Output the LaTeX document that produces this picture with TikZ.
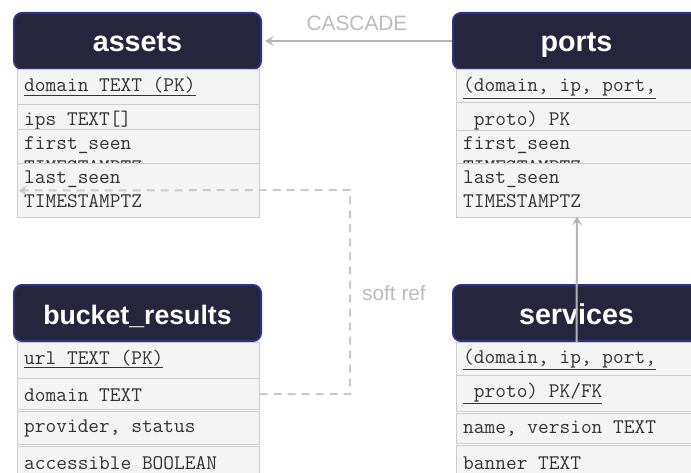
\documentclass[tikz,border=0pt]{standalone}
\usepackage{fontspec}
\newfontfamily\headfont{Liberation Sans}
\usetikzlibrary{arrows.meta}

\definecolor{headfill}{HTML}{25263C}
\definecolor{headline}{HTML}{2E3190}
\definecolor{rowfill}{HTML}{F4F4F4}
\definecolor{rowline}{HTML}{CCCCCC}
\definecolor{fieldtext}{HTML}{333333}
\definecolor{linkgray}{HTML}{B4B4B4}
\definecolor{softgray}{HTML}{CACACA}

\begin{document}
\begin{tikzpicture}[x=1pt, y=-1pt,
	tablehead/.style={draw=headline, line width=2pt, fill=headfill, rounded corners=8pt,
		minimum width=247pt, minimum height=56pt, inner sep=0pt, text height=28pt, text depth=6pt,
		text=white, font=\headfont\bfseries\fontsize{28.7}{30}\selectfont},
	rowbox/.style={draw=rowline, fill=rowfill, line width=1pt, anchor=north west,
		minimum width=242pt, inner sep=0pt},
	field/.style={anchor=base west, inner sep=0pt, text=fieldtext,
		font=\ttfamily\fontsize{20.8}{24}\selectfont},
	linklabel/.style={text=linkgray!90, inner sep=0pt, font=\headfont\fontsize{20.8}{24}\selectfont},
	cascade/.style={draw=linkgray, line width=2pt, -{Stealth[length=9pt, width=10pt, inset=4pt]}},
	softref/.style={draw=softgray, line width=2pt, dash pattern=on 8pt off 6pt,
		-{Stealth[length=9pt, width=10pt, inset=4pt]}}]

	\useasboundingbox (0,0) rectangle (691,473);
	\clip (0,0) rectangle (691,473);

	% Table headers
	\node[tablehead] (ahead) at (137.5, 41) {assets};
	\node[tablehead] (phead) at (576.5, 41) {ports};
	\node[tablehead, font=\headfont\bfseries\fontsize{26.7}{30}\selectfont] (bhead) at (137.5, 313) {bucket\_results};
	\node[tablehead] (shead) at (576.5, 313) {services};

	% assets (each row covers the tail of the one above)
	\node[rowbox, minimum height=35pt] (a1) at (16.5, 69) {};
	\node[field] (apk) at (24, 92) {\underline{domain TEXT (PK)}};
	\node[rowbox, minimum height=35pt] (a2) at (16.5, 104) {};
	\node[field] (aips) at (24, 126) {ips TEXT[]};
	\node[rowbox, minimum height=58pt] (a3) at (16.5, 129) {};
	\node[field] (afirst) at (24, 150) {first\_seen};
	\node[field] (afirstts) at (24, 174) {TIMESTAMPTZ};
	\node[rowbox, minimum height=54pt] (a4) at (16.5, 163) {};
	\node[field] (alast) at (24, 184) {last\_seen};
	\node[field] (alastts) at (24, 208) {TIMESTAMPTZ};

	% ports
	\node[rowbox, minimum height=33pt] (p1) at (455.5, 69) {};
	\node[field] (ppk) at (463, 92) {\underline{(domain, ip, port,}};
	\node[rowbox, minimum height=35pt] (p2) at (455.5, 102) {};
	\node[field] (ppk2) at (463, 126) {\ proto) PK};
	\node[rowbox, minimum height=58pt] (p3) at (455.5, 130) {};
	\node[field] (pfirst) at (463, 150) {first\_seen};
	\node[field] (pfirstts) at (463, 174) {TIMESTAMPTZ};
	\node[rowbox, minimum height=54pt] (p4) at (455.5, 163.5) {};
	\node[field] (plast) at (463, 184) {last\_seen};
	\node[field] (plastts) at (463, 208) {TIMESTAMPTZ};

	% bucket_results
	\node[rowbox, minimum height=36pt] (b1) at (16.5, 342) {};
	\node[field] (bpk) at (24, 364) {\underline{url TEXT (PK)}};
	\node[rowbox, minimum height=31pt] (bdom) at (16.5, 378) {};
	\node[field] (bdomtxt) at (24, 401) {domain TEXT};
	\node[rowbox, minimum height=33pt] (b3) at (16.5, 411) {};
	\node[field] (bprov) at (24, 432) {provider, status};
	\node[rowbox, minimum height=36pt] (b4) at (16.5, 446) {};
	\node[field] (bacc) at (24, 469) {accessible BOOLEAN};

	% services
	\node[rowbox, minimum height=33pt] (s1) at (455.5, 342) {};
	\node[field] (spk) at (463, 363) {\underline{(domain, ip, port,}};
	\node[rowbox, minimum height=36pt] (s2) at (455.5, 375) {};
	\node[field] (spk2) at (463, 397) {\underline{\ proto) PK/FK}};
	\node[rowbox, minimum height=30pt] (s3) at (455.5, 413) {};
	\node[field] (sname) at (463, 433) {name, version TEXT};
	\node[rowbox, minimum height=36pt] (s4) at (455.5, 445) {};
	\node[field] (sbanner) at (463, 469) {banner TEXT};

	% Links
	\draw[cascade] (phead.west) -- ([xshift=3pt]ahead.east);
	\node[linklabel] (casclbl) at (357, 23) {CASCADE};

	\coordinate (softbend) at (350, 190);
	\draw[softref] (bdom.east) -| (softbend) -- ([xshift=2pt]a4.west);
	\node[linklabel] (softlbl) at (394, 293) {soft ref};

	\draw[cascade] (shead.south) -- ([yshift=2pt]p4.south);

\end{tikzpicture}
\end{document}
